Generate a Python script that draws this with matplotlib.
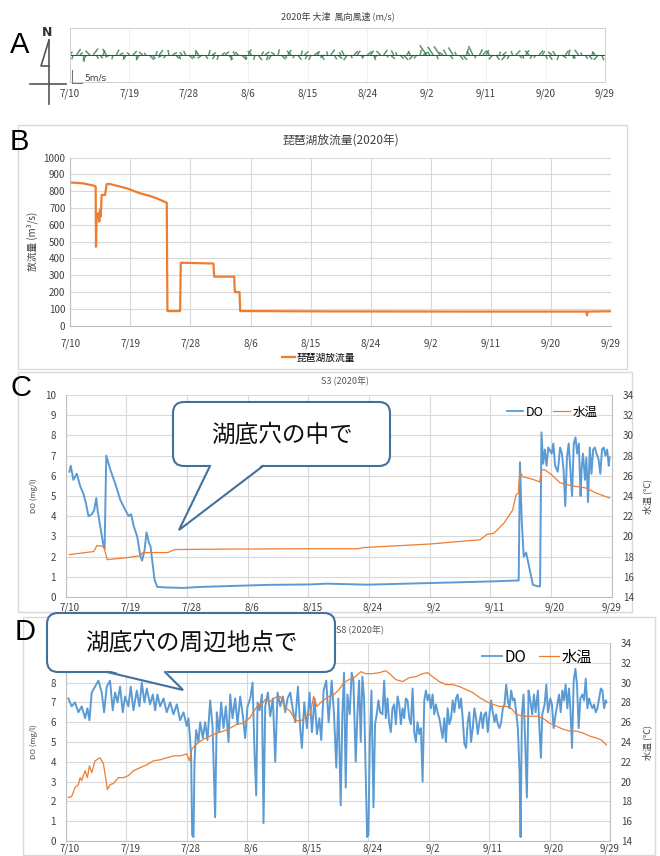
import matplotlib
matplotlib.use("Agg")
import matplotlib.pyplot as plt
import matplotlib.transforms as mtransforms
import numpy as np
from matplotlib.collections import LineCollection
from matplotlib.lines import Line2D
from matplotlib.patches import FancyBboxPatch, Polygon, Rectangle

plt.rcParams['font.family'] = ['Noto Sans CJK JP', 'DejaVu Sans']

BLUE = "#5B9BD5"
ORANGE = "#ED7D31"
GRID = "#D9D9D9"
TXT = "#404040"
CALLOUT = "#41719C"

# days since 7/10
TICK_DAYS = [0, 9, 18, 27, 36, 45, 54, 63, 72, 81]
TICK_LABELS = ["7/10", "7/19", "7/28", "8/6", "8/15", "8/24", "9/2", "9/11", "9/20", "9/29"]

# --- A: Otsu wind (m/s), two readings per day from 7/10 ---
WIND_U = [1.2, -0.8, 2.0, 1.5, 0.6, -1.8, -2.2, 2.5, 1.0, 1.6, 0.9, -1.8, -2.2, -0.5, 1.4, 2.0, 0.8, -1.5,
          -1.2, 2.0, 0.5, -1.6, -1.8, -0.9, 2.4, 1.4, 0.7, 1.9, -2.1, -1.1, -0.6, 2.3, 1.7, 0.9, -1.3, -1.0,
          2.1, 1.3, 0.4, -1.7, -2.3, 1.2, 0.7, 2.0, -1.5, -0.8, 1.6, 1.9, 2.2, -0.4, -1.0, -1.6, 2.4, 0.9,
          1.5, -2.0, -0.6, 1.9, 1.1, 2.3, -0.8, -1.4, -1.8, 0.7, 2.1, 1.2, 1.6, -2.2, -0.9, 1.8, 0.6, 2.0,
          -1.4, -1.1, 2.2, 0.9, 1.7, -2.1, -0.5, 1.9, 1.3, 2.4, -0.7, -1.3, -1.9, 0.8, 2.0, 1.5, 1.2, -0.8,
          2.2, 1.6, 0.9, -1.5, -2.0, 1.8, 0.5, 2.3, -1.2, -0.6, 1.7, 2.3, 1.0, -0.9, -2.1, -1.4, 0.7, 1.9,
          -3.5, -1.2, -2.8, 0.8, -3.0, -2.0, -1.5, 1.6, -2.4, -0.9, 1.8, 2.0, 1.1, -1.3, -2.2, -0.8, 1.5, 1.9,
          1.3, -1.1, -2.0, 1.7, 0.6, 1.9, -2.2, -1.0, -0.7, 2.3, 1.4, 0.8, 1.6, -2.0, -1.2, -0.9, 2.1, 1.3,
          0.9, 1.7, -2.1, -1.4, -0.8, 2.2, 1.6, 0.7, 1.8, -1.2, -2.0, -0.6, 1.3, 1.9, 1.0, -1.5, -2.3, 1.1]
WIND_V = [1.5, -2.0, 2.8, 1.2, -3.2, -2.5, 2.0, 3.0, -1.8, -1.5, 2.2, 2.8, -1.0, -2.0, 2.5, 1.0, -1.7, -2.2,
          1.2, 1.8, -2.0, -2.4, 1.4, 1.0, -2.2, -1.7, 1.8, 2.3, -1.1, -1.5, 2.4, 1.2, -1.6, -2.0, 1.3, 1.9,
          -1.8, -1.4, 2.1, 2.0, -1.5, -1.8, 2.3, 1.1, -1.9, -2.2, 1.2, 1.6, -2.0, -2.5, 1.7, 1.3, -2.2, -1.8,
          2.6, 1.9, -2.2, -2.4, 1.6, 1.5, -2.4, -2.1, 1.3, 2.6, -2.0, -1.4, 2.3, 1.9, -1.5, -2.2, 2.1, 1.7,
          -1.9, -2.3, 1.4, 1.8, -2.2, -1.2, 1.7, 2.5, -2.0, -1.6, 1.3, 2.1, -2.4, -1.5, 1.8, 2.0, -1.1, -1.7,
          1.6, 2.0, -2.3, -1.4, 1.9, 2.4, -1.2, -1.8, 2.1, 1.3, -1.7, -2.2, 1.4, 1.9, -2.0, -1.6, 2.5, 1.2,
          4.5, 1.5, 3.8, -2.0, 4.0, 1.2, 2.5, -1.8, 3.5, 1.4, -2.2, -2.3, 3.0, 1.7, 4.2, -1.5, 2.6, 2.0,
          2.3, 1.8, -2.0, -2.2, 1.6, 1.4, -2.4, -1.9, 1.8, 2.1, -1.5, -1.6, 2.2, 2.0, -1.7, -1.3, 2.1, 1.8,
          -1.9, -2.2, 1.5, 1.8, -2.3, -1.4, 2.0, 2.5, -1.6, -1.7, 2.4, 1.2, -1.8, -2.0, 1.4, 1.6, -2.2, -2.4]

# --- B: Lake Biwa outflow (m3/s) ---
FLOW_T = [0, 1.95, 3.7, 3.8, 3.85, 3.95, 4.2, 4.35, 4.45, 4.55, 4.7, 5.2, 5.45, 5.95, 8.45, 10.45, 11.95,
          12.95, 14.45, 14.55, 16.45, 16.55, 21.45, 21.55, 24.55, 24.65, 25.35, 25.45, 40, 60, 77.3, 77.4,
          77.5, 81]
FLOW_V = [853, 847, 832, 827, 470, 660, 670, 620, 690, 650, 778, 778, 843, 843, 818, 788, 772,
          758, 732, 87, 87, 375, 370, 292, 292, 200, 200, 87, 85, 84, 84, 62, 84, 86]

# --- C: S3 ---
S3_DO_T = [0.55, 0.75, 1.14, 1.64, 2.14, 2.64, 3.03, 3.38, 3.88, 4.23, 4.53, 4.73, 5.12, 5.62, 5.77,
           6.02, 6.62, 7.36, 8.11, 8.86, 9.35, 9.70, 10.10, 10.60, 11.09, 11.34, 11.69, 11.99, 12.34,
           12.59, 12.84, 13.18, 13.58, 15.0, 17.5, 20, 25, 30, 36, 38.8, 44.7, 53.9, 63.0, 67.2,
           67.39, 67.65, 67.95, 68.30, 68.56, 69.06, 69.31, 70.07, 70.37, 70.58, 70.83, 71.08, 71.33,
           71.59, 72.09, 72.34, 72.60, 73.00, 73.35, 73.61, 73.86, 74.11, 74.36, 74.62, 74.87, 75.12,
           75.37, 75.63, 75.88, 76.13, 76.38, 76.53, 76.74, 77.04, 77.24, 77.49, 77.75, 78.00, 78.25,
           78.50, 78.75, 79.06, 79.31, 79.56, 79.82, 80.07, 80.32, 80.57, 80.68]
S3_DO = [6.2, 6.5, 5.8, 6.1, 5.5, 5.1, 4.6, 4.0, 4.1, 4.3, 4.9, 4.3, 3.5, 2.5, 2.4,
         7.0, 6.3, 5.6, 4.8, 4.3, 4.0, 4.1, 3.5, 3.0, 2.0, 1.8, 2.3, 3.2, 2.7,
         2.5, 1.8, 0.85, 0.5, 0.47, 0.45, 0.5, 0.55, 0.6, 0.62, 0.66, 0.61, 0.69, 0.77, 0.82,
         6.67, 3.8, 2.0, 2.2, 1.8, 1.0, 0.6, 0.53, 0.52, 8.15, 6.6, 7.3, 6.5,
         7.4, 7.1, 7.6, 6.5, 6.2, 7.4, 7.1, 6.3, 4.5, 6.9, 7.6, 6.3, 5.0,
         7.6, 7.9, 7.1, 7.6, 5.0, 6.3, 7.1, 5.8, 6.9, 4.7, 7.4, 6.1, 7.3,
         7.4, 7.1, 6.8, 6.1, 7.3, 7.4, 7.0, 7.3, 6.5, 6.9]
S3_WT_T = [0.55, 4.15, 4.40, 4.65, 5.65, 6.15, 9.15, 11.15, 11.40, 15.15, 16.15, 25, 38.8, 43.3, 44.3,
           53.9, 61.5, 62.5, 63.5, 65.0, 66.3, 66.8, 67.14, 67.39, 67.8, 69.06, 70.32, 70.58, 71.08,
           72.09, 73.35, 75.12, 77.14, 78.66, 80.68]
S3_WT = [18.2, 18.5, 18.8, 19.1, 19.0, 17.7, 17.9, 18.1, 18.4, 18.4, 18.7, 18.75, 18.78, 18.78, 18.9,
         19.24, 19.67, 20.2, 20.3, 21.3, 22.6, 24.1, 24.3, 26.4, 25.9, 25.7, 25.4, 26.6, 26.6,
         26.1, 25.3, 25.0, 24.8, 24.3, 23.8]

# --- D: S8 ---
S8_DO_T = [0.40, 0.89, 1.39, 1.89, 2.38, 2.88, 3.23, 3.53, 3.87, 4.37, 4.87, 5.36, 5.71, 6.11, 6.60,
           7.00, 7.35, 7.70, 8.09, 8.49, 8.84, 9.33, 9.68, 10.08, 10.58, 10.97, 11.32, 11.72, 12.07,
           12.56, 12.96, 13.31, 13.65, 14.05, 14.55, 15.04, 15.54, 16.04, 16.53, 17.03, 17.53, 18.02,
           18.27, 18.52, 18.67, 18.82, 19.02, 19.17, 19.41, 19.76, 20.01, 20.41, 20.75, 21.10, 21.50,
           21.85, 22.24, 22.49, 22.84, 23.14, 23.49, 23.83, 24.23, 24.48, 24.83, 25.22, 25.57, 25.97,
           26.37, 26.71, 27.06, 27.46, 27.81, 28.10, 28.35, 28.55, 28.85, 29.20, 29.44, 29.69, 30.09,
           30.44, 30.83, 31.18, 31.53, 31.93, 32.32, 32.67, 33.02, 33.42, 33.81, 34.16, 34.56, 34.91,
           35.15, 35.50, 35.90, 36.30, 36.64, 37.04, 37.39, 37.74, 38.03, 38.38, 38.78, 39.13,
           39.58, 39.93, 40.27, 40.57, 40.92, 41.17, 41.42, 41.67, 41.92, 42.26, 42.56, 42.81, 43.16,
           43.41, 43.66, 43.91, 44.15, 44.40, 44.65, 44.85, 45.05, 45.25, 45.50, 45.80, 46.04, 46.29,
           46.54, 46.79, 47.14, 47.39, 47.64, 47.89, 48.13, 48.38, 48.63, 48.88, 49.13, 49.38, 49.63,
           49.88, 50.12, 50.37, 50.62, 50.87, 51.12, 51.37, 51.62, 51.87, 52.11, 52.36, 52.61, 52.86,
           53.11, 53.36, 53.61, 53.86, 54.10, 54.35, 54.60, 54.85, 55.10, 55.35, 55.60, 55.85, 56.09,
           56.34, 56.59, 56.84, 57.09, 57.34, 57.59, 57.84, 58.08, 58.33, 58.58, 58.83, 59.08, 59.33,
           59.58, 59.83, 60.07, 60.32, 60.57, 60.82, 61.07, 61.32, 61.57, 61.82, 62.06, 62.31, 62.56,
           62.81, 63.06, 63.31, 63.56, 63.81, 64.05, 64.30, 64.55, 64.80, 65.05, 65.30, 65.55, 65.80,
           66.04, 66.29, 66.54, 66.79, 67.04, 67.29, 67.54, 67.69, 67.89, 68.13, 68.38, 68.63, 68.88,
           69.13, 69.43, 69.68, 69.93, 70.27, 70.52, 70.72, 70.92, 71.27, 71.52, 71.77, 72.11, 72.36,
           72.61, 72.91, 73.16, 73.41, 73.66, 73.91, 74.15, 74.40, 74.65, 74.90, 75.10, 75.35, 75.60,
           75.85, 76.09, 76.34, 76.59, 76.89, 77.14, 77.39, 77.64, 77.89, 78.13, 78.38, 78.63, 78.88,
           79.13, 79.38, 79.63, 79.88, 80.12, 80.37, 80.47]
S8_DO = [7.2, 6.8, 7.0, 6.5, 6.8, 6.2, 6.7, 6.1, 7.5, 7.8, 8.1, 7.5, 6.5, 7.8, 8.1,
         6.6, 7.5, 7.0, 7.8, 6.5, 7.3, 6.8, 7.8, 6.6, 7.6, 6.8, 8.0, 7.0, 7.7,
         6.9, 7.4, 6.6, 7.4, 6.8, 7.2, 6.5, 7.0, 6.4, 6.9, 6.1, 6.5, 5.8,
         6.2, 5.1, 4.2, 0.3, 0.2, 4.0, 5.6, 5.0, 6.0, 5.2, 6.0, 5.1, 7.1,
         5.8, 1.2, 6.5, 5.5, 7.0, 5.7, 6.8, 5.0, 7.4, 6.2, 7.2, 5.9, 7.3,
         6.3, 5.2, 6.8, 7.2, 8.0, 4.5, 2.3, 7.0, 6.6, 7.4, 0.9, 6.8, 7.5,
         6.3, 7.2, 4.0, 7.5, 6.8, 7.3, 6.5, 7.2, 7.5, 6.6, 6.0, 7.8, 5.6,
         4.7, 7.0, 5.7, 7.5, 5.5, 7.2, 5.4, 6.2, 5.1, 7.6, 8.1, 6.0,
         8.1, 6.4, 3.7, 7.2, 1.8, 6.4, 8.5, 2.7, 7.4, 6.4, 8.5, 8.1, 4.0,
         6.4, 8.1, 5.0, 8.3, 7.2, 3.2, 0.2, 0.3, 5.0, 7.6, 1.7, 5.9, 6.4,
         7.1, 6.5, 6.4, 8.1, 6.2, 7.2, 6.0, 5.5, 6.7, 6.9, 5.9, 7.3, 6.9,
         5.9, 6.7, 6.2, 7.2, 7.1, 6.2, 5.9, 7.7, 5.5, 5.0, 6.0, 5.4, 5.7,
         3.0, 7.1, 7.6, 7.1, 7.4, 6.7, 7.4, 6.4, 6.9, 6.5, 6.2, 5.7, 5.2,
         6.2, 5.0, 6.7, 5.9, 6.2, 7.1, 6.5, 7.2, 7.4, 6.7, 7.2, 6.2, 4.9,
         4.7, 6.0, 6.5, 5.0, 5.7, 6.7, 6.2, 5.4, 6.0, 6.5, 5.7, 6.4, 6.5,
         5.5, 6.4, 7.1, 6.5, 6.0, 6.4, 5.9, 5.7, 6.0, 6.7, 6.9, 7.9, 7.1,
         6.7, 7.6, 7.1, 7.2, 6.5, 5.7, 3.5, 0.2, 6.4, 7.4, 5.0, 2.2, 7.6,
         7.1, 6.4, 7.4, 6.5, 7.6, 5.5, 4.2, 6.4, 6.9, 7.9, 6.5, 7.2, 6.9,
         5.7, 6.4, 6.9, 7.4, 6.5, 7.6, 7.1, 7.9, 6.7, 7.7, 6.7, 4.7, 8.1,
         8.7, 7.9, 5.7, 7.2, 7.4, 7.1, 8.2, 6.7, 7.2, 6.9, 6.7, 6.9, 6.5,
         6.7, 7.2, 7.7, 7.6, 6.7, 7.1, 7.0]
S8_WT_T = [0.40, 0.89, 1.39, 1.89, 2.14, 2.38, 2.88, 3.23, 3.53, 3.87, 4.37, 5.11, 5.61, 6.01, 6.21,
           6.60, 7.10, 7.85, 8.59, 9.33, 10.08, 11.07, 12.07, 13.06, 14.05, 15.04, 16.04, 17.03, 18.02,
           18.42, 18.77, 19.51, 20.51, 21.50, 22.49, 23.49, 24.48, 25.47, 26.46, 27.46, 28.20, 28.70,
           29.20, 29.69, 30.44, 31.18, 31.93, 32.67, 33.42, 34.16, 34.91, 35.65, 36.39, 36.89, 37.39,
           38.13, 39.13, 39.93, 40.67, 41.42, 42.16, 42.91, 43.41, 43.91, 44.65, 45.65, 46.64, 47.64,
           48.38, 49.13, 50.12, 51.12, 52.11, 53.11, 53.86, 54.60, 55.60, 56.59, 57.59, 58.58, 59.58,
           60.57, 61.57, 62.56, 63.56, 64.55, 65.55, 66.29, 67.04, 68.03, 69.03, 70.27, 71.02, 72.01,
           73.01, 74.00, 75.00, 75.99, 76.99, 77.99, 78.98, 79.73, 80.47]
S8_WT = [18.4, 18.5, 19.4, 19.7, 20.4, 20.1, 21.1, 20.4, 21.6, 20.9, 22.1, 22.4, 21.8, 20.1, 19.2,
         19.7, 19.8, 20.4, 20.4, 20.6, 21.1, 21.4, 21.7, 22.1, 22.2, 22.4, 22.6, 22.6, 22.8,
         22.1, 23.3, 23.8, 24.3, 24.6, 24.9, 25.1, 25.4, 25.8, 25.9, 26.5, 27.3, 27.8,
         27.8, 28.3, 28.1, 28.5, 28.6, 27.5, 27.1, 26.2, 26.1, 26.5, 26.8, 28.6, 27.6,
         28.1, 28.6, 28.8, 29.3, 30.0, 30.3, 30.5, 30.8, 31.1, 30.9, 30.9, 31.0, 31.2,
         30.8, 30.3, 30.1, 30.5, 30.6, 30.9, 31.0, 30.6, 30.1, 29.8, 29.8, 29.6, 29.3,
         29.0, 28.5, 28.1, 27.8, 27.6, 27.6, 27.4, 26.8, 26.6, 26.6, 26.6, 26.4, 25.9,
         25.6, 25.3, 25.1, 25.1, 24.9, 24.6, 24.4, 24.2, 23.7]


W, H = 660, 856


def rect(x0, y0, x1, y1):
    """pixel box (top-left origin) -> figure fraction rect"""
    return [x0 / W, 1 - y1 / H, (x1 - x0) / W, (y1 - y0) / H]


def style_axis(ax):
    ax.set_xlim(0, 81)
    ax.set_xticks(TICK_DAYS)
    ax.set_xticklabels(TICK_LABELS)
    ax.tick_params(length=0, labelsize=7, colors=TXT)
    ax.grid(color=GRID, lw=0.8)
    ax.set_axisbelow(True)
    for s in ax.spines.values():
        s.set_visible(False)
    ax.spines["bottom"].set_visible(True)
    ax.spines["bottom"].set_color("#BFBFBF")
    ax.spines["left"].set_visible(True)
    ax.spines["left"].set_color("#BFBFBF")


fig = plt.figure(figsize=(6.6, 8.56), dpi=100)

# background frames of panels B, C, D
bg = fig.add_axes([0, 0, 1, 1], zorder=-5)
bg.set_xlim(0, W)
bg.set_ylim(H, 0)
bg.axis("off")
for x0, y0, x1, y1 in [(18, 125, 627, 369), (18, 372, 632, 612), (23, 617, 655, 855)]:
    bg.add_patch(Rectangle((x0, y0), x1 - x0, y1 - y0, facecolor="white", edgecolor=GRID, lw=1))

# ---------- A: wind sticks ----------
axA = fig.add_axes(rect(70, 28, 605, 82))
wt = np.arange(len(WIND_U)) * 0.5
k = 0.30  # day per m/s so that sticks keep their angle
segs = [[(t, 0), (t + u * k, v)] for t, u, v in zip(wt, WIND_U, WIND_V)]
axA.add_collection(LineCollection(segs, colors="#2E7D4F", lw=1.1, alpha=0.8))
axA.axhline(0, color="#1B5E20", lw=0.7)
axA.set_xlim(0, 81)
axA.set_ylim(-12.5, 12.5)
axA.set_xticks(TICK_DAYS)
axA.set_xticklabels(TICK_LABELS)
axA.set_yticks([])
axA.tick_params(length=0, labelsize=7, colors=TXT, pad=5)
axA.grid(axis="x", color="#EEEEEE", lw=0.6)
for s in axA.spines.values():
    s.set_color("#D0D0D0")
    s.set_linewidth(0.7)
axA.set_title("2020年 大津  風向風速 (m/s)", fontsize=6.5, color=TXT, pad=6)

# ---------- B: outflow ----------
axB = fig.add_axes(rect(70.3, 157.7, 611, 325.7))
axB.plot(FLOW_T, FLOW_V, color=ORANGE, lw=1.6, label="琵琶湖放流量")
style_axis(axB)
axB.set_ylim(0, 1000)
axB.set_yticks(range(0, 1001, 100))
axB.tick_params(axis="x", pad=9)
axB.set_title("琵琶湖放流量(2020年)", fontsize=8.5, color=TXT, pad=10)
axB.legend(loc="center", bbox_to_anchor=(0.46, -0.19), frameon=False, fontsize=7,
           handlelength=1.3, handletextpad=0.2)


def water_panel(box, title, title_xy, do_t, do_v, wt_t, wt_v, leg_xy, leg_fs, xpad):
    ax = fig.add_axes(rect(*box))
    ax.plot(do_t, do_v, color=BLUE, lw=1.4, zorder=3)
    style_axis(ax)
    ax.set_ylim(0, 10)
    ax.set_yticks(range(0, 11))
    ax.tick_params(axis="x", pad=xpad)
    ax.tick_params(axis="y", pad=7)
    # date labels sit a little right of their gridline, as in the source
    shift = mtransforms.ScaledTranslation(4 / 100, 0, fig.dpi_scale_trans)
    for lab in ax.get_xticklabels()[:-1]:
        lab.set_transform(lab.get_transform() + shift)
    ax2 = ax.twinx()
    ax2.plot(wt_t, wt_v, color=ORANGE, lw=0.9)
    ax2.set_ylim(14, 34)
    ax2.set_yticks(range(14, 35, 2))
    ax2.tick_params(length=0, labelsize=7, colors=TXT, pad=8)
    for s in ax2.spines.values():
        s.set_visible(False)
    ax2.spines["right"].set_visible(True)
    ax2.spines["right"].set_color("#BFBFBF")
    fig.text(title_xy[0] / W, 1 - title_xy[1] / H, title, fontsize=6.5, color="#595959",
             ha="center", va="center")
    handles = [Line2D([], [], color=BLUE, lw=1.3), Line2D([], [], color=ORANGE, lw=0.9)]
    fig.legend(handles, ["DO", "水温"], loc="center",
               bbox_to_anchor=(leg_xy[0] / W, 1 - leg_xy[1] / H), ncol=2, frameon=False,
               fontsize=leg_fs, handlelength=1.3, handletextpad=0.2, columnspacing=0.8)
    return ax


axC = water_panel((65.7, 395, 611.7, 597), "S3 (2020年)", (345, 381), S3_DO_T, S3_DO,
                  S3_WT_T, S3_WT, (552, 412), 9, 4)
axD = water_panel((65.7, 643, 610, 841), "S8 (2020年)", (360, 630), S8_DO_T, S8_DO,
                  S8_WT_T, S8_WT, (537, 657), 11, 1.5)

# ---------- overlay: labels, callouts, north arrow ----------
fg = fig.add_axes([0, 0, 1, 1], zorder=20)
fg.set_xlim(0, W)
fg.set_ylim(H, 0)
fg.axis("off")

for lab, x, y in [("A", 20, 45), ("B", 19, 142), ("C", 21, 388), ("D", 25, 632)]:
    fg.text(x, y, lab, fontsize=21, family="Liberation Sans", ha="center", va="center", color="black")

# axis labels
fg.text(32, 241, "放流量 (m³/s)", fontsize=7, rotation=90, ha="center", va="center", color=TXT)
for yc in (496, 742):
    fg.text(34, yc, "DO (mg/l)", fontsize=5.5, rotation=90, ha="center", va="center", color=TXT)
    fg.text(647, yc, "水温 (℃)", fontsize=6.5, rotation=90, ha="center", va="center", color=TXT)

# north arrow
fg.plot([49, 49], [40, 104], color="#555555", lw=1.2)
fg.plot([49, 41, 49], [40, 66, 66], color="#555555", lw=1.2)
fg.plot([30, 66], [84, 84], color="#555555", lw=1.2)
fg.text(47, 32, "N", fontsize=9, fontweight="bold", ha="center", va="center", color="#333333",
        family="DejaVu Sans")

# 5 m/s scale
fg.plot([72, 72, 82], [70, 83, 83], color="#777777", lw=0.8)
fg.text(84, 78, "5m/s", fontsize=6.5, ha="left", va="center", color=TXT, family="DejaVu Sans")


def callout(x0, y0, x1, y1, base, tip, text, fs):
    fg.add_patch(FancyBboxPatch((x0, y0), x1 - x0, y1 - y0,
                                boxstyle="round,pad=0,rounding_size=11",
                                facecolor="white", edgecolor=CALLOUT, lw=1.5, zorder=1))
    fg.add_patch(Polygon([(base[0], y1 - 2), tip, (base[1], y1 - 2)], closed=True,
                         facecolor="white", edgecolor="none", zorder=2))
    fg.plot([base[0], tip[0], base[1]], [y1, tip[1], y1], color=CALLOUT, lw=1.5, zorder=3,
            solid_joinstyle="miter")
    fg.text((x0 + x1) / 2, (y0 + y1) / 2 + 1, text, fontsize=fs, ha="center", va="center",
            color="#111111", zorder=4)


callout(173, 402, 390, 466, (210, 263), (179, 530), "湖底穴の中で", 17)
callout(47, 613, 335, 672, (107, 165), (183, 690), "湖底穴の周辺地点で", 17)

fig.savefig("out.png", dpi=100)
